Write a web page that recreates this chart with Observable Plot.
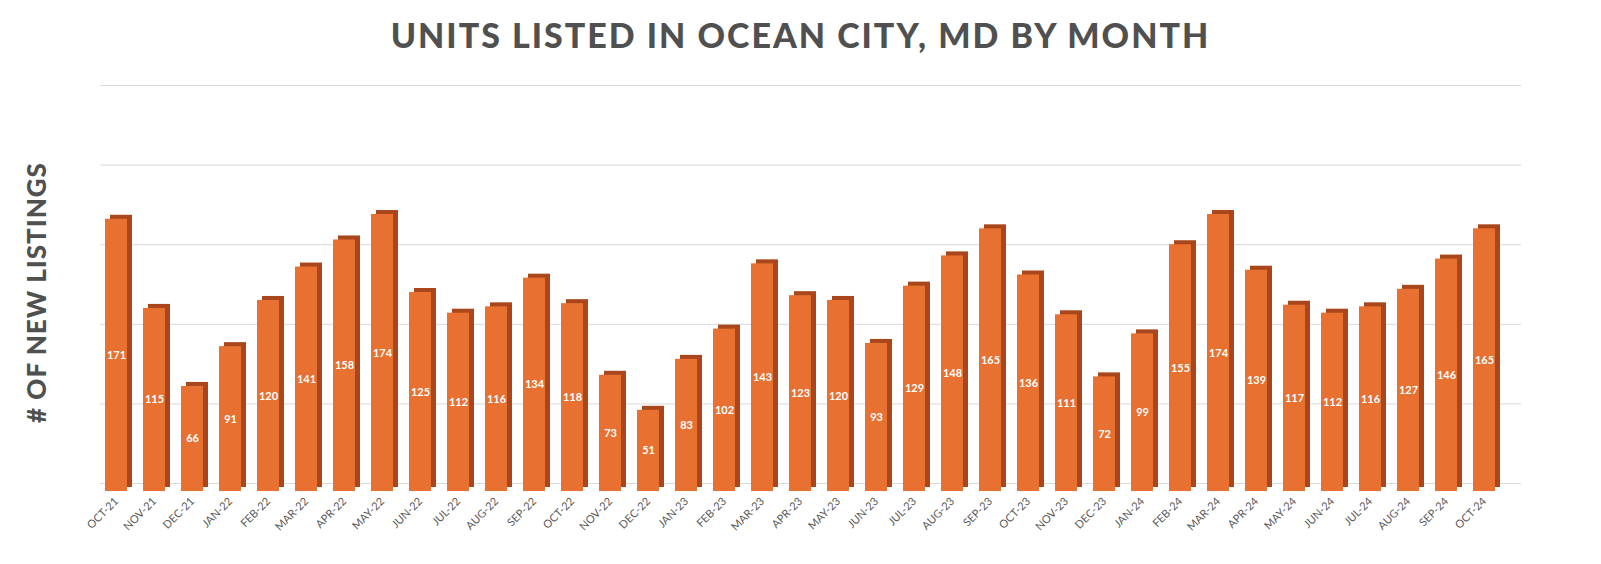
<!DOCTYPE html>
<html><head><meta charset="utf-8">
<script src="https://cdn.jsdelivr.net/npm/d3@7"></script>
<script src="https://cdn.jsdelivr.net/npm/@observablehq/plot@0.6"></script>
<style>
html,body{margin:0;background:#fff;overflow:hidden;font-family:Lato,"Open Sans",sans-serif}
#title{height:70px;line-height:70px;text-align:center;font-size:34px;font-weight:900;color:#505050;letter-spacing:2px;font-family:Lato,sans-serif}
svg{display:block}
</style></head><body>
<div id="title">UNITS LISTED IN OCEAN CITY, MD BY MONTH</div>
<div id="chart"></div>
<script>
const months = ["OCT-21","NOV-21","DEC-21","JAN-22","FEB-22","MAR-22","APR-22","MAY-22","JUN-22","JUL-22","AUG-22","SEP-22","OCT-22","NOV-22","DEC-22","JAN-23","FEB-23","MAR-23","APR-23","MAY-23","JUN-23","JUL-23","AUG-23","SEP-23","OCT-23","NOV-23","DEC-23","JAN-24","FEB-24","MAR-24","APR-24","MAY-24","JUN-24","JUL-24","AUG-24","SEP-24","OCT-24"];
const listings = [171,115,66,91,120,141,158,174,125,112,116,134,118,73,51,83,102,143,123,120,93,129,148,165,136,111,72,99,155,174,139,117,112,116,127,146,165];
const gridTicks = [0,50,100,150,200,250];
const data = months.map((m,i)=>({m, v: listings[i]}));
const chart = Plot.plot({
  width: 1601, height: 494,
  marginLeft: 90, marginRight: 90, marginTop: 23, marginBottom: 73,
  x: {domain: months, paddingInner: 0.42, paddingOuter: 0.15, label: null},
  y: {domain: [0,250], label: null},
  style: {fontFamily: "Lato, sans-serif"},
  marks: [
    Plot.ruleY(gridTicks, {y: d=>d, stroke: "#d9d9d9", dy: -8, dx: 10}),
    Plot.axisX({tickRotate: -45, tickSize: 0, fontSize: 11, fill: "#595959", tickPadding: 8}),
    Plot.axisY({ticks: [], label: "# OF NEW LISTINGS", labelAnchor: "center", labelArrow: "none", labelOffset: 63, fontSize: 26, fontWeight: 900, fill: "#505050"}),
    Plot.barY(data, {x: "m", y: "v", fill: "#A9461C", dx: 5, dy: -4}),
    Plot.barY(data, {x: "m", y: "v", fill: "#E87030"}),
    Plot.text(data, {x: "m", y: d=>d.v/2, text: d=>String(d.v), fill: "white", fontWeight: "bold", fontSize: 11})
  ]
});
chart.querySelectorAll('[aria-label="y-axis label"] text').forEach(t=>{t.style.fontWeight="900";t.style.fontSize="26px";t.style.letterSpacing="1px"});
document.getElementById("chart").append(chart);
</script></body></html>
